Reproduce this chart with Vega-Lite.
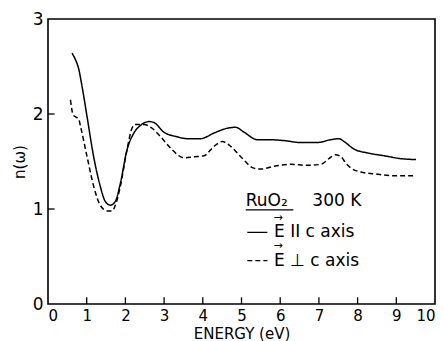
{
  "$schema": "https://vega.github.io/schema/vega-lite/v6.json",
  "width": 387,
  "height": 285,
  "autosize": {"type": "none"},
  "padding": {"left": 48, "top": 19, "right": 8, "bottom": 37},
  "background": "white",
  "config": {
    "view": {"stroke": "black", "strokeWidth": 1.6},
    "font": "DejaVu Sans",
    "axis": {"grid": false, "domain": false, "ticks": false, "labelColor": "black", "titleColor": "black", "labelFont": "DejaVu Sans", "titleFont": "DejaVu Sans", "titleFontWeight": "normal", "labelOverlap": false}
  },
  "layer": [
    {
      "data": {"values": [
        {"E": 0.62, "n": 2.64, "s": "par"},
        {"E": 0.70, "n": 2.58, "s": "par"},
        {"E": 0.79, "n": 2.48, "s": "par"},
        {"E": 0.88, "n": 2.29, "s": "par"},
        {"E": 1.01, "n": 1.97, "s": "par"},
        {"E": 1.18, "n": 1.55, "s": "par"},
        {"E": 1.35, "n": 1.24, "s": "par"},
        {"E": 1.48, "n": 1.08, "s": "par"},
        {"E": 1.61, "n": 1.04, "s": "par"},
        {"E": 1.74, "n": 1.08, "s": "par"},
        {"E": 1.87, "n": 1.27, "s": "par"},
        {"E": 2.04, "n": 1.62, "s": "par"},
        {"E": 2.22, "n": 1.80, "s": "par"},
        {"E": 2.39, "n": 1.88, "s": "par"},
        {"E": 2.61, "n": 1.92, "s": "par"},
        {"E": 2.74, "n": 1.91, "s": "par"},
        {"E": 2.99, "n": 1.81, "s": "par"},
        {"E": 3.34, "n": 1.76, "s": "par"},
        {"E": 3.60, "n": 1.74, "s": "par"},
        {"E": 3.94, "n": 1.74, "s": "par"},
        {"E": 4.29, "n": 1.80, "s": "par"},
        {"E": 4.63, "n": 1.85, "s": "par"},
        {"E": 4.85, "n": 1.86, "s": "par"},
        {"E": 5.06, "n": 1.81, "s": "par"},
        {"E": 5.41, "n": 1.73, "s": "par"},
        {"E": 5.67, "n": 1.73, "s": "par"},
        {"E": 6.10, "n": 1.72, "s": "par"},
        {"E": 6.53, "n": 1.70, "s": "par"},
        {"E": 6.96, "n": 1.70, "s": "par"},
        {"E": 7.31, "n": 1.73, "s": "par"},
        {"E": 7.52, "n": 1.74, "s": "par"},
        {"E": 7.65, "n": 1.71, "s": "par"},
        {"E": 7.91, "n": 1.63, "s": "par"},
        {"E": 8.26, "n": 1.59, "s": "par"},
        {"E": 8.69, "n": 1.56, "s": "par"},
        {"E": 9.12, "n": 1.53, "s": "par"},
        {"E": 9.51, "n": 1.52, "s": "par"},
        {"E": 0.58, "n": 2.15, "s": "perp"},
        {"E": 0.65, "n": 1.99, "s": "perp"},
        {"E": 0.71, "n": 1.97, "s": "perp"},
        {"E": 0.79, "n": 1.95, "s": "perp"},
        {"E": 0.84, "n": 1.87, "s": "perp"},
        {"E": 1.01, "n": 1.55, "s": "perp"},
        {"E": 1.18, "n": 1.24, "s": "perp"},
        {"E": 1.35, "n": 1.04, "s": "perp"},
        {"E": 1.53, "n": 0.98, "s": "perp"},
        {"E": 1.66, "n": 0.98, "s": "perp"},
        {"E": 1.74, "n": 1.04, "s": "perp"},
        {"E": 1.87, "n": 1.24, "s": "perp"},
        {"E": 2.04, "n": 1.62, "s": "perp"},
        {"E": 2.17, "n": 1.85, "s": "perp"},
        {"E": 2.26, "n": 1.89, "s": "perp"},
        {"E": 2.48, "n": 1.89, "s": "perp"},
        {"E": 2.69, "n": 1.85, "s": "perp"},
        {"E": 2.91, "n": 1.76, "s": "perp"},
        {"E": 3.17, "n": 1.64, "s": "perp"},
        {"E": 3.51, "n": 1.54, "s": "perp"},
        {"E": 3.77, "n": 1.55, "s": "perp"},
        {"E": 4.03, "n": 1.56, "s": "perp"},
        {"E": 4.29, "n": 1.66, "s": "perp"},
        {"E": 4.50, "n": 1.71, "s": "perp"},
        {"E": 4.72, "n": 1.66, "s": "perp"},
        {"E": 4.98, "n": 1.55, "s": "perp"},
        {"E": 5.32, "n": 1.43, "s": "perp"},
        {"E": 5.50, "n": 1.42, "s": "perp"},
        {"E": 5.84, "n": 1.45, "s": "perp"},
        {"E": 6.27, "n": 1.47, "s": "perp"},
        {"E": 6.70, "n": 1.46, "s": "perp"},
        {"E": 7.05, "n": 1.47, "s": "perp"},
        {"E": 7.26, "n": 1.53, "s": "perp"},
        {"E": 7.42, "n": 1.57, "s": "perp"},
        {"E": 7.57, "n": 1.55, "s": "perp"},
        {"E": 7.70, "n": 1.48, "s": "perp"},
        {"E": 7.83, "n": 1.43, "s": "perp"},
        {"E": 8.08, "n": 1.39, "s": "perp"},
        {"E": 8.43, "n": 1.37, "s": "perp"},
        {"E": 8.95, "n": 1.35, "s": "perp"},
        {"E": 9.51, "n": 1.35, "s": "perp"}
      ]},
      "mark": {"type": "line", "interpolate": "monotone", "color": "black", "strokeWidth": 1.5},
      "encoding": {
        "x": {"field": "E", "type": "quantitative", "scale": {"domain": [0, 10], "nice": false}, "axis": {"title": "ENERGY (eV)", "values": [0,1,2,3,4,5,6,7,8,9,10], "format": "d", "labelFontSize": 15, "titleFontSize": 15, "labelPadding": 4, "titlePadding": 3}},
        "y": {"field": "n", "type": "quantitative", "scale": {"domain": [0, 3], "nice": false}, "axis": {"title": "n(ω)", "values": [0,1,2,3], "format": "d", "labelFontSize": 17, "titleFontSize": 15, "labelPadding": 5, "titlePadding": 5}},
        "detail": {"field": "s"},
        "strokeDash": {"field": "s", "type": "nominal", "scale": {"domain": ["par", "perp"], "range": [[1, 0], [5, 3]]}, "legend": null}
      }
    },
    {
      "data": {"values": [
        {"v": 1}, {"v": 2}, {"v": 3}, {"v": 4}, {"v": 5}, {"v": 6}, {"v": 7}, {"v": 8}, {"v": 9}
      ]},
      "mark": {"type": "rule", "color": "black", "strokeWidth": 1.3},
      "encoding": {
        "x": {"field": "v", "type": "quantitative", "scale": {"domain": [0, 10], "nice": false}, "axis": {"title": "ENERGY (eV)", "values": [0,1,2,3,4,5,6,7,8,9,10], "format": "d", "labelFontSize": 15, "titleFontSize": 15, "labelPadding": 4, "titlePadding": 3}},
        "y": {"datum": 0, "type": "quantitative", "scale": {"domain": [0, 3], "nice": false}, "axis": {"title": "n(ω)", "values": [0,1,2,3], "format": "d", "labelFontSize": 17, "titleFontSize": 15, "labelPadding": 5, "titlePadding": 5}},
        "y2": {"datum": 0.07}
      }
    },
    {
      "data": {"values": [
        {"v": 1}, {"v": 2}
      ]},
      "mark": {"type": "rule", "color": "black", "strokeWidth": 1.3},
      "encoding": {
        "y": {"field": "v", "type": "quantitative", "scale": {"domain": [0, 3], "nice": false}, "axis": {"title": "n(ω)", "values": [0,1,2,3], "format": "d", "labelFontSize": 17, "titleFontSize": 15, "labelPadding": 5, "titlePadding": 5}},
        "x": {"datum": 0, "type": "quantitative", "scale": {"domain": [0, 10], "nice": false}, "axis": {"title": "ENERGY (eV)", "values": [0,1,2,3,4,5,6,7,8,9,10], "format": "d", "labelFontSize": 15, "titleFontSize": 15, "labelPadding": 4, "titlePadding": 3}},
        "x2": {"datum": 0.17}
      }
    },
    {
      "data": {"values": [
        {"x1": 5.15, "x2": 5.67, "y": 0.754, "s": "par"},
        {"x1": 5.15, "x2": 5.67, "y": 0.456, "s": "perp"}
      ]},
      "mark": {"type": "rule", "color": "black", "strokeWidth": 1.3},
      "encoding": {
        "x": {"field": "x1", "type": "quantitative", "scale": {"domain": [0, 10], "nice": false}, "axis": {"title": "ENERGY (eV)", "values": [0,1,2,3,4,5,6,7,8,9,10], "format": "d", "labelFontSize": 15, "titleFontSize": 15, "labelPadding": 4, "titlePadding": 3}},
        "x2": {"field": "x2"},
        "y": {"field": "y", "type": "quantitative", "scale": {"domain": [0, 3], "nice": false}, "axis": {"title": "n(ω)", "values": [0,1,2,3], "format": "d", "labelFontSize": 17, "titleFontSize": 15, "labelPadding": 5, "titlePadding": 5}},
        "strokeDash": {"field": "s", "type": "nominal", "scale": {"domain": ["par", "perp"], "range": [[1, 0], [5, 3]]}, "legend": null}
      }
    },
    {
      "data": {"values": [
        {"x1": 5.11, "x2": 6.34, "y": 0.99}
      ]},
      "mark": {"type": "rule", "color": "black", "strokeWidth": 1.3},
      "encoding": {
        "x": {"field": "x1", "type": "quantitative", "scale": {"domain": [0, 10], "nice": false}, "axis": {"title": "ENERGY (eV)", "values": [0,1,2,3,4,5,6,7,8,9,10], "format": "d", "labelFontSize": 15, "titleFontSize": 15, "labelPadding": 4, "titlePadding": 3}},
        "x2": {"field": "x2"},
        "y": {"field": "y", "type": "quantitative", "scale": {"domain": [0, 3], "nice": false}, "axis": {"title": "n(ω)", "values": [0,1,2,3], "format": "d", "labelFontSize": 17, "titleFontSize": 15, "labelPadding": 5, "titlePadding": 5}}
      }
    },
    {
      "data": {"values": [
        {"x": 5.11, "y": 1.08, "t": "RuO₂"},
        {"x": 6.83, "y": 1.08, "t": "300 K"},
        {"x": 5.84, "y": 0.754, "t": "E  II  c  axis"},
        {"x": 5.84, "y": 0.456, "t": "E  ⊥  c  axis"}
      ]},
      "mark": {"type": "text", "align": "left", "baseline": "middle", "fontSize": 17, "color": "black"},
      "encoding": {
        "x": {"field": "x", "type": "quantitative", "scale": {"domain": [0, 10], "nice": false}, "axis": {"title": "ENERGY (eV)", "values": [0,1,2,3,4,5,6,7,8,9,10], "format": "d", "labelFontSize": 15, "titleFontSize": 15, "labelPadding": 4, "titlePadding": 3}},
        "y": {"field": "y", "type": "quantitative", "scale": {"domain": [0, 3], "nice": false}, "axis": {"title": "n(ω)", "values": [0,1,2,3], "format": "d", "labelFontSize": 17, "titleFontSize": 15, "labelPadding": 5, "titlePadding": 5}},
        "text": {"field": "t"}
      }
    },
    {
      "data": {"values": [
        {"x": 5.83, "y": 0.91, "t": "→"},
        {"x": 5.83, "y": 0.61, "t": "→"}
      ]},
      "mark": {"type": "text", "align": "left", "baseline": "middle", "fontSize": 11, "color": "black"},
      "encoding": {
        "x": {"field": "x", "type": "quantitative", "scale": {"domain": [0, 10], "nice": false}, "axis": {"title": "ENERGY (eV)", "values": [0,1,2,3,4,5,6,7,8,9,10], "format": "d", "labelFontSize": 15, "titleFontSize": 15, "labelPadding": 4, "titlePadding": 3}},
        "y": {"field": "y", "type": "quantitative", "scale": {"domain": [0, 3], "nice": false}, "axis": {"title": "n(ω)", "values": [0,1,2,3], "format": "d", "labelFontSize": 17, "titleFontSize": 15, "labelPadding": 5, "titlePadding": 5}},
        "text": {"field": "t"}
      }
    }
  ]
}
